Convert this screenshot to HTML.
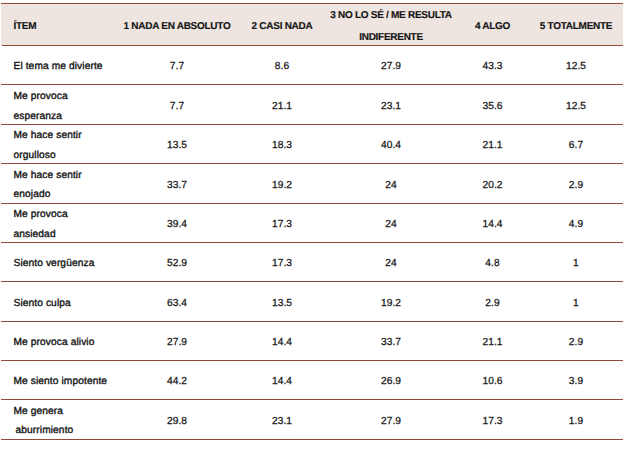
<!DOCTYPE html>
<html><head><meta charset="utf-8"><style>
html,body{margin:0;padding:0;background:#fff;width:623px;height:451px;overflow:hidden;position:relative}
body{font-family:"Liberation Sans",sans-serif;text-rendering:geometricPrecision;color:#141414;font-size:10.2px;letter-spacing:0.1px;-webkit-text-stroke:0.35px #141414}
.l{position:absolute;left:1px;right:0;height:1px;background:#924a38}
.hb{position:absolute;left:1px;right:0;top:4px;height:41px;background:#eee4e0}
.t{position:absolute;white-space:nowrap;line-height:1}
.c{transform:translateX(-50%);-webkit-text-stroke:0.25px #141414}
.h{font-size:10px;font-weight:bold;letter-spacing:-0.28px;word-spacing:0px;-webkit-text-stroke:0.15px #141414}
</style></head><body>
<div class="hb"></div>
<div class="l" style="top:3px;left:1px"></div>

<div class="l" style="top:45px;left:2px"></div>
<div class="l" style="top:84px"></div>
<div class="l" style="top:124px"></div>
<div class="l" style="top:163px"></div>
<div class="l" style="top:203px"></div>
<div class="l" style="top:242px"></div>
<div class="l" style="top:281px"></div>
<div class="l" style="top:321px"></div>
<div class="l" style="top:360px"></div>
<div class="l" style="top:399px"></div>
<div class="l" style="top:439px"></div>
<div class="t h" style="left:13.5px;top:21.53px">ÍTEM</div>
<div class="t c h" style="left:177px;top:21.53px">1 NADA EN ABSOLUTO</div>
<div class="t c h" style="left:282px;top:21.53px">2 CASI NADA</div>
<div class="t c h" style="left:492.5px;top:21.53px">4 ALGO</div>
<div class="t c h" style="left:576px;top:21.53px">5 TOTALMENTE</div>
<div class="t c h" style="left:391px;top:10.53px">3 NO LO SÉ / ME RESULTA</div>
<div class="t c h" style="left:391px;top:32.53px">INDIFERENTE</div>
<div class="t " style="left:13.5px;top:62.36px">El tema me divierte</div>
<div class="t c " style="left:177px;top:62.36px">7.7</div>
<div class="t c " style="left:282px;top:62.36px">8.6</div>
<div class="t c " style="left:391px;top:62.36px">27.9</div>
<div class="t c " style="left:492.5px;top:62.36px">43.3</div>
<div class="t c " style="left:576px;top:62.36px">12.5</div>
<div class="t " style="left:13.5px;top:92.36px">Me provoca</div>
<div class="t " style="left:13.5px;top:112.36px">esperanza</div>
<div class="t c " style="left:177px;top:102.36px">7.7</div>
<div class="t c " style="left:282px;top:102.36px">21.1</div>
<div class="t c " style="left:391px;top:102.36px">23.1</div>
<div class="t c " style="left:492.5px;top:102.36px">35.6</div>
<div class="t c " style="left:576px;top:102.36px">12.5</div>
<div class="t " style="left:13.5px;top:131.36px">Me hace sentir</div>
<div class="t " style="left:13.5px;top:151.36px">orgulloso</div>
<div class="t c " style="left:177px;top:141.36px">13.5</div>
<div class="t c " style="left:282px;top:141.36px">18.3</div>
<div class="t c " style="left:391px;top:141.36px">40.4</div>
<div class="t c " style="left:492.5px;top:141.36px">21.1</div>
<div class="t c " style="left:576px;top:141.36px">6.7</div>
<div class="t " style="left:13.5px;top:171.36px">Me hace sentir</div>
<div class="t " style="left:13.5px;top:190.36px">enojado</div>
<div class="t c " style="left:177px;top:180.86px">33.7</div>
<div class="t c " style="left:282px;top:180.86px">19.2</div>
<div class="t c " style="left:391px;top:180.86px">24</div>
<div class="t c " style="left:492.5px;top:180.86px">20.2</div>
<div class="t c " style="left:576px;top:180.86px">2.9</div>
<div class="t " style="left:13.5px;top:210.36px">Me provoca</div>
<div class="t " style="left:13.5px;top:229.86px">ansiedad</div>
<div class="t c " style="left:177px;top:220.36px">39.4</div>
<div class="t c " style="left:282px;top:220.36px">17.3</div>
<div class="t c " style="left:391px;top:220.36px">24</div>
<div class="t c " style="left:492.5px;top:220.36px">14.4</div>
<div class="t c " style="left:576px;top:220.36px">4.9</div>
<div class="t " style="left:13.5px;top:259.36px">Siento vergüenza</div>
<div class="t c " style="left:177px;top:259.36px">52.9</div>
<div class="t c " style="left:282px;top:259.36px">17.3</div>
<div class="t c " style="left:391px;top:259.36px">24</div>
<div class="t c " style="left:492.5px;top:259.36px">4.8</div>
<div class="t c " style="left:576px;top:259.36px">1</div>
<div class="t " style="left:13.5px;top:299.36px">Siento culpa</div>
<div class="t c " style="left:177px;top:299.36px">63.4</div>
<div class="t c " style="left:282px;top:299.36px">13.5</div>
<div class="t c " style="left:391px;top:299.36px">19.2</div>
<div class="t c " style="left:492.5px;top:299.36px">2.9</div>
<div class="t c " style="left:576px;top:299.36px">1</div>
<div class="t " style="left:13.5px;top:338.36px">Me provoca alivio</div>
<div class="t c " style="left:177px;top:338.36px">27.9</div>
<div class="t c " style="left:282px;top:338.36px">14.4</div>
<div class="t c " style="left:391px;top:338.36px">33.7</div>
<div class="t c " style="left:492.5px;top:338.36px">21.1</div>
<div class="t c " style="left:576px;top:338.36px">2.9</div>
<div class="t " style="left:13.5px;top:377.36px">Me siento impotente</div>
<div class="t c " style="left:177px;top:377.36px">44.2</div>
<div class="t c " style="left:282px;top:377.36px">14.4</div>
<div class="t c " style="left:391px;top:377.36px">26.9</div>
<div class="t c " style="left:492.5px;top:377.36px">10.6</div>
<div class="t c " style="left:576px;top:377.36px">3.9</div>
<div class="t " style="left:13.5px;top:407.36px">Me genera</div>
<div class="t " style="left:13.5px;top:426.36px"><span style="margin-left:2px">aburrimiento</span></div>
<div class="t c " style="left:177px;top:417.36px">29.8</div>
<div class="t c " style="left:282px;top:417.36px">23.1</div>
<div class="t c " style="left:391px;top:417.36px">27.9</div>
<div class="t c " style="left:492.5px;top:417.36px">17.3</div>
<div class="t c " style="left:576px;top:417.36px">1.9</div>
</body></html>
